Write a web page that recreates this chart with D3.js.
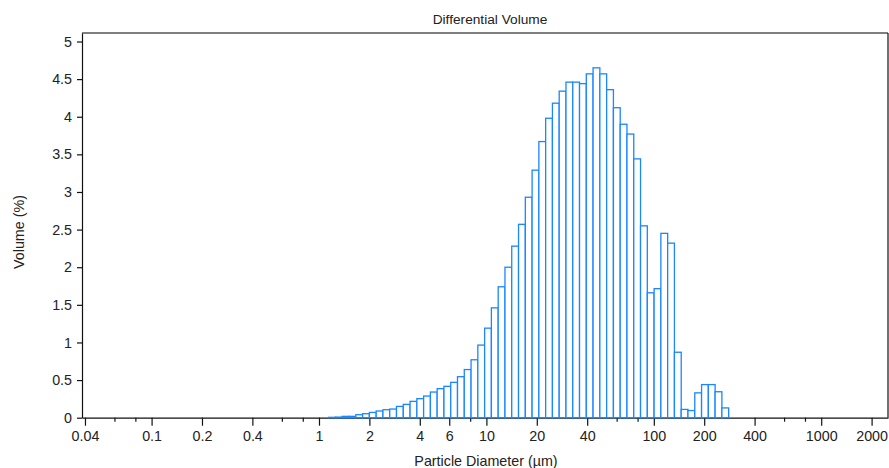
<!DOCTYPE html>
<html>
<head>
<meta charset="utf-8">
<script src="https://cdn.jsdelivr.net/npm/d3@7"></script>
<style>
  body { margin: 0; background: #fff; }
  text { font-family: Arial, "Liberation Sans", sans-serif; fill: #222; }
</style>
</head>
<body>
<script>
// channel boundaries (um) and differential volume (%) per channel
const binEdges = [1.143, 1.255, 1.377, 1.512, 1.660, 1.822, 2.000, 2.196, 2.410, 2.646,
  2.904, 3.188, 3.500, 3.842, 4.217, 4.629, 5.081, 5.578, 6.123, 6.721,
  7.377, 8.099, 8.889, 9.759, 10.71, 11.76, 12.91, 14.17, 15.56, 17.08,
  18.75, 20.58, 22.59, 24.80, 27.22, 29.88, 32.80, 36.00, 39.52, 43.38,
  47.62, 52.27, 57.38, 62.99, 69.14, 75.90, 83.32, 91.46, 100.4, 110.2,
  121.0, 132.8, 145.8, 160.0, 175.7, 192.9, 211.7, 232.4, 255.1, 280.0, 307.4];

const volume = [0.005, 0.008, 0.018, 0.018, 0.04, 0.053, 0.07, 0.089, 0.106, 0.115,
  0.15, 0.177, 0.217, 0.253, 0.288, 0.341, 0.386, 0.417, 0.47, 0.545,
  0.64, 0.77, 0.965, 1.19, 1.46, 1.74, 2.00, 2.28, 2.57, 2.93,
  3.29, 3.67, 3.98, 4.18, 4.34, 4.46, 4.46, 4.44, 4.57, 4.65,
  4.57, 4.36, 4.12, 3.90, 3.77, 3.44, 2.55, 1.66, 1.715, 2.45,
  2.32, 0.87, 0.11, 0.095, 0.33, 0.44, 0.44, 0.345, 0.13, 0];

const xMajorTicks = [0.04, 0.1, 0.2, 0.4, 1, 2, 4, 6, 10, 20, 40, 100, 200, 400, 1000, 2000];
const xMinorTicks = [0.06, 0.08, 0.6, 0.8, 8, 60, 80, 600, 800];
const yTicks = [0, 0.5, 1, 1.5, 2, 2.5, 3, 3.5, 4, 4.5, 5];

const width = 889, height = 468;
const plotLeft = 82, plotRight = 888, plotTop = 33, plotBottom = 417.7;

const svg = d3.select("body").append("svg")
    .attr("width", width)
    .attr("height", height);

const x = d3.scaleLog()
    .domain([0.0384, 2506])
    .range([plotLeft, plotRight]);

const y = d3.scaleLinear()
    .domain([0, 5.113])
    .range([plotBottom, plotTop]);

// frame (top + right)
svg.append("line")
    .attr("x1", plotLeft).attr("x2", plotRight)
    .attr("y1", plotTop).attr("y2", plotTop)
    .attr("stroke", "#555").attr("stroke-width", 1.3);
svg.append("line")
    .attr("x1", plotRight).attr("x2", plotRight)
    .attr("y1", plotTop).attr("y2", plotBottom)
    .attr("stroke", "#111").attr("stroke-width", 1.2);

// x axis
svg.append("g")
    .attr("transform", `translate(0,${plotBottom})`)
    .call(d3.axisBottom(x)
      .tickValues(xMajorTicks)
      .tickFormat(d => String(d))
      .tickSize(8)
      .tickSizeOuter(0)
      .tickPadding(5));

svg.append("g")
    .attr("transform", `translate(0,${plotBottom})`)
    .call(d3.axisBottom(x)
      .tickValues(xMinorTicks)
      .tickFormat("")
      .tickSize(4)
      .tickSizeOuter(0))
    .call(g => g.select(".domain").remove());

// y axis
svg.append("g")
    .attr("transform", `translate(${plotLeft},0)`)
    .call(d3.axisLeft(y)
      .tickValues(yTicks)
      .tickFormat(d => String(d))
      .tickSize(5)
      .tickSizeOuter(0)
      .tickPadding(5));

svg.selectAll(".tick text")
    .style("font-size", "14.3px")
    .style("fill", "#222");
svg.selectAll(".domain, .tick line")
    .attr("stroke", "#111")
    .attr("stroke-width", 1.2);

// bars
svg.append("g")
  .selectAll("rect")
  .data(volume)
  .join("rect")
    .attr("x", (d, i) => x(binEdges[i]))
    .attr("width", (d, i) => x(binEdges[i + 1]) - x(binEdges[i]))
    .attr("y", d => y(d))
    .attr("height", d => y(0) - y(d))
    .attr("fill", "#fff")
    .attr("stroke", "#1a86ff")
    .attr("stroke-width", 1.3);

// titles
svg.append("text")
    .attr("x", 490).attr("y", 24)
    .attr("text-anchor", "middle")
    .style("font-size", "13.7px")
    .text("Differential Volume");

svg.append("text")
    .attr("x", 486).attr("y", 466)
    .attr("text-anchor", "middle")
    .style("font-size", "14.3px")
    .text("Particle Diameter (µm)");

svg.append("text")
    .attr("transform", "translate(24,232) rotate(-90)")
    .attr("text-anchor", "middle")
    .style("font-size", "14.3px")
    .text("Volume (%)");
</script>
</body>
</html>
